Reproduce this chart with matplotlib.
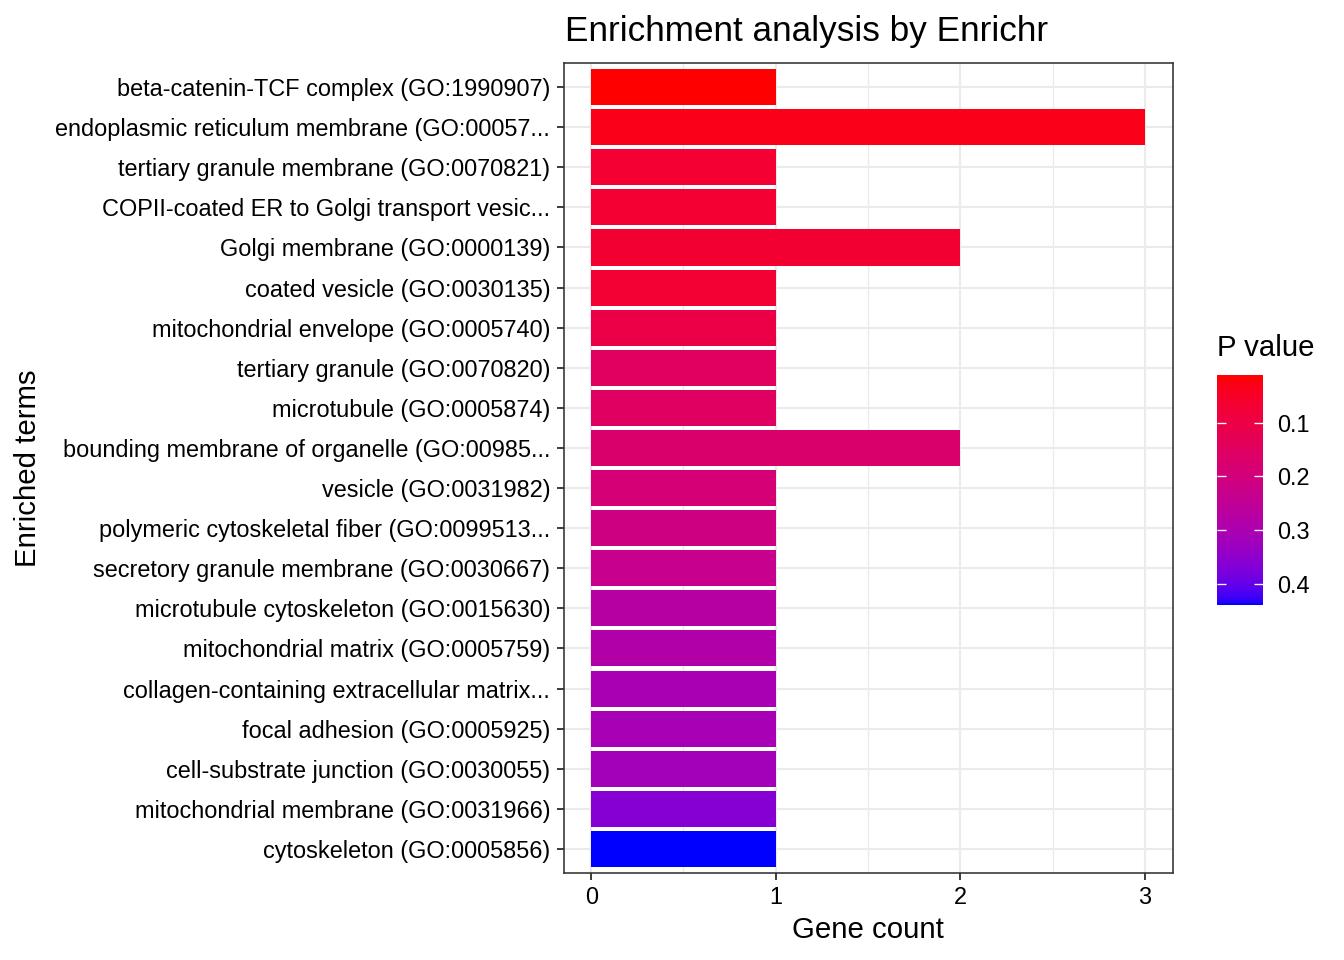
import numpy as np
import matplotlib
matplotlib.use("Agg")
import matplotlib.pyplot as plt
from matplotlib.colors import ListedColormap, Normalize
from matplotlib.cm import ScalarMappable

plt.rcParams['font.family'] = ['Liberation Sans', 'DejaVu Sans']

# enriched GO terms, top to bottom #
terms = [
    "beta-catenin-TCF complex (GO:1990907)",
    "endoplasmic reticulum membrane (GO:00057...",
    "tertiary granule membrane (GO:0070821)",
    "COPII-coated ER to Golgi transport vesic...",
    "Golgi membrane (GO:0000139)",
    "coated vesicle (GO:0030135)",
    "mitochondrial envelope (GO:0005740)",
    "tertiary granule (GO:0070820)",
    "microtubule (GO:0005874)",
    "bounding membrane of organelle (GO:00985...",
    "vesicle (GO:0031982)",
    "polymeric cytoskeletal fiber (GO:0099513...",
    "secretory granule membrane (GO:0030667)",
    "microtubule cytoskeleton (GO:0015630)",
    "mitochondrial matrix (GO:0005759)",
    "collagen-containing extracellular matrix...",
    "focal adhesion (GO:0005925)",
    "cell-substrate junction (GO:0030055)",
    "mitochondrial membrane (GO:0031966)",
    "cytoskeleton (GO:0005856)",
]
gene_count = [1, 3, 1, 1, 2, 1, 1, 1, 1, 2, 1, 1, 1, 1, 1, 1, 1, 1, 1, 1]
p_value = [0.011, 0.032, 0.067, 0.068, 0.069, 0.070, 0.105, 0.148, 0.153, 0.170,
           0.191, 0.213, 0.234, 0.273, 0.286, 0.303, 0.307, 0.316, 0.363, 0.440]
p_ticks = [0.1, 0.2, 0.3, 0.4]


# red -> blue gradient interpolated in CIELAB, like scale_fill_gradient #
def srgb_to_lab(c):
    c = np.asarray(c, float)
    lin = np.where(c <= 0.04045, c / 12.92, ((c + 0.055) / 1.055) ** 2.4)
    m = np.array([[0.4124, 0.3576, 0.1805],
                  [0.2126, 0.7152, 0.0722],
                  [0.0193, 0.1192, 0.9505]])
    xyz = m @ lin / np.array([0.95047, 1.0, 1.08883])
    f = np.where(xyz > 0.008856, np.cbrt(xyz), 7.787 * xyz + 16 / 116)
    return np.array([116 * f[1] - 16, 500 * (f[0] - f[1]), 200 * (f[1] - f[2])])


def lab_to_srgb(lab):
    L, a, b = lab
    fy = (L + 16) / 116
    fx = fy + a / 500
    fz = fy - b / 200
    f = np.array([fx, fy, fz])
    xyz = np.where(f ** 3 > 0.008856, f ** 3, (f - 16 / 116) / 7.787)
    xyz = xyz * np.array([0.95047, 1.0, 1.08883])
    m = np.array([[3.2406, -1.5372, -0.4986],
                  [-0.9689, 1.8758, 0.0415],
                  [0.0557, -0.2040, 1.0570]])
    lin = np.clip(m @ xyz, 0, 1)
    c = np.where(lin <= 0.0031308, 12.92 * lin, 1.055 * lin ** (1 / 2.4) - 0.055)
    return np.clip(c, 0, 1)


lab_lo = srgb_to_lab([1, 0, 0])
lab_hi = srgb_to_lab([0, 0, 1])
cmap = ListedColormap([lab_to_srgb(lab_lo + t * (lab_hi - lab_lo))
                       for t in np.linspace(0, 1, 300)])
norm = Normalize(vmin=min(p_value), vmax=max(p_value))

################################################################################

fig = plt.figure(figsize=(7, 5), dpi=192)
ax = fig.add_axes([563.5 / 1344, 87 / 960, 609 / 1344, 810 / 960])

ypos = np.arange(len(terms))
ax.barh(ypos, gene_count, height=0.9, color=cmap(norm(p_value)), zorder=3)

ax.set_xlim(-0.15, 3.15)
ax.set_ylim(len(terms) - 0.4, -0.6)
ax.set_xticks([0, 1, 2, 3])
ax.set_xticks([0.5, 1.5, 2.5], minor=True)
ax.set_yticks(ypos)
ax.set_yticklabels(terms)

# theme_bw look #
ax.grid(True, which='major', color='#EBEBEB', lw=0.8, zorder=0)
ax.grid(True, which='minor', axis='x', color='#EBEBEB', lw=0.45, zorder=0)
ax.set_axisbelow(True)
for s in ax.spines.values():
    s.set_color('#333333')
    s.set_linewidth(0.6)
ax.tick_params(which='major', length=2.75, width=0.7, color='#333333',
               labelsize=8.8, labelcolor='black', pad=2.2)
ax.tick_params(which='minor', length=0)

fig.text(565 / 1344, 1 - 41 / 960, "Enrichment analysis by Enrichr",
         fontsize=13.2, ha='left', va='baseline')
fig.text(868 / 1344, 1 - 938 / 960, "Gene count", fontsize=11,
         ha='center', va='baseline')
fig.text(28 / 1344, 1 - 468 / 960, "Enriched terms", fontsize=11,
         rotation=90, ha='center', va='center')

# colour bar legend, low p on top #
cax = fig.add_axes([1217 / 1344, 355 / 960, 46 / 1344, 230 / 960])
cb = fig.colorbar(ScalarMappable(norm=norm, cmap=cmap), cax=cax)
cb.outline.set_visible(False)
cb.set_ticks(p_ticks)
cb.set_ticklabels([str(t) for t in p_ticks])
cax.invert_yaxis()
cax.tick_params(direction='in', length=9.2 * 72 / 192, width=0.5, color='white',
                left=True, right=True, labelsize=8.8, pad=5.2)
fig.text(1217 / 1344, 1 - 356 / 960, "P value", fontsize=11,
         ha='left', va='baseline')

fig.savefig("out.png", dpi=192)
